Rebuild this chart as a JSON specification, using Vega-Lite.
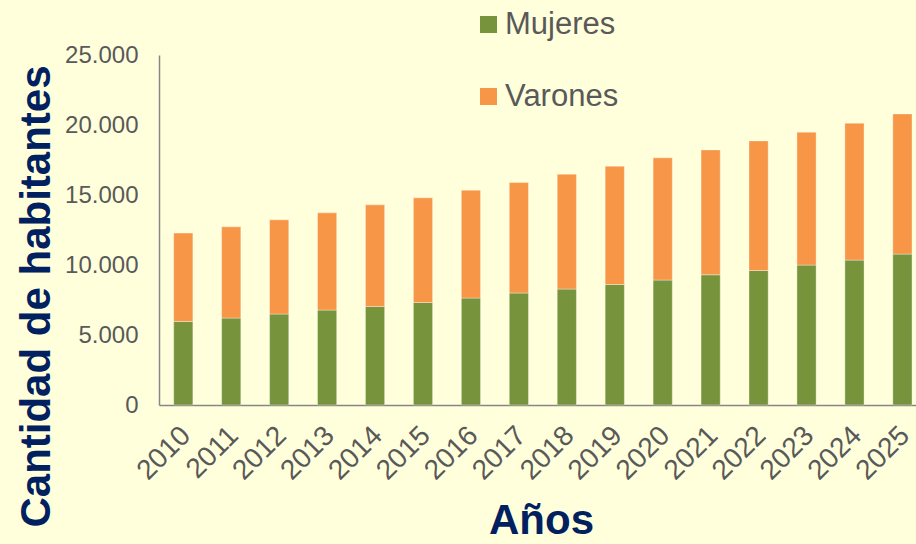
{
  "$schema": "https://vega.github.io/schema/vega-lite/v6.json",
  "autosize": {"type": "none"},
  "padding": {"left": 159, "top": 55, "right": 0, "bottom": 139},
  "width": 757,
  "height": 350,
  "background": "#FFFFDC",
  "data": {
    "values": [
      {"year": "2010", "sexo": "Mujeres", "value": 5967},
      {"year": "2010", "sexo": "Varones", "value": 6310},
      {"year": "2011", "sexo": "Mujeres", "value": 6210},
      {"year": "2011", "sexo": "Varones", "value": 6517},
      {"year": "2012", "sexo": "Mujeres", "value": 6495},
      {"year": "2012", "sexo": "Varones", "value": 6731},
      {"year": "2013", "sexo": "Mujeres", "value": 6781},
      {"year": "2013", "sexo": "Varones", "value": 6945},
      {"year": "2014", "sexo": "Mujeres", "value": 7038},
      {"year": "2014", "sexo": "Varones", "value": 7259},
      {"year": "2015", "sexo": "Mujeres", "value": 7323},
      {"year": "2015", "sexo": "Varones", "value": 7474},
      {"year": "2016", "sexo": "Mujeres", "value": 7637},
      {"year": "2016", "sexo": "Varones", "value": 7709},
      {"year": "2017", "sexo": "Mujeres", "value": 7994},
      {"year": "2017", "sexo": "Varones", "value": 7895},
      {"year": "2018", "sexo": "Mujeres", "value": 8280},
      {"year": "2018", "sexo": "Varones", "value": 8208},
      {"year": "2019", "sexo": "Mujeres", "value": 8608},
      {"year": "2019", "sexo": "Varones", "value": 8451},
      {"year": "2020", "sexo": "Mujeres", "value": 8922},
      {"year": "2020", "sexo": "Varones", "value": 8730},
      {"year": "2021", "sexo": "Mujeres", "value": 9301},
      {"year": "2021", "sexo": "Varones", "value": 8922},
      {"year": "2022", "sexo": "Mujeres", "value": 9607},
      {"year": "2022", "sexo": "Varones", "value": 9258},
      {"year": "2023", "sexo": "Mujeres", "value": 9993},
      {"year": "2023", "sexo": "Varones", "value": 9493},
      {"year": "2024", "sexo": "Mujeres", "value": 10350},
      {"year": "2024", "sexo": "Varones", "value": 9778},
      {"year": "2025", "sexo": "Mujeres", "value": 10778},
      {"year": "2025", "sexo": "Varones", "value": 10014}
    ]
  },
  "mark": {"type": "bar", "stroke": "#FFFFFF", "strokeOpacity": 0.35, "strokeWidth": 1},
  "encoding": {
    "x": {
      "field": "year",
      "type": "ordinal",
      "scale": {"paddingInner": 0.6, "paddingOuter": 0.195, "align": 0.786},
      "axis": {
        "title": "Años",
        "labelAngle": -45,
        "labelAlign": "right",
        "labelBaseline": "middle",
        "labelPadding": 26,
        "labelOffset": 3,
        "labelFontSize": 28,
        "labelFont": "Liberation Sans",
        "labelColor": "#595959",
        "labelOverlap": false,
        "ticks": false,
        "domainColor": "#868686",
        "domainWidth": 1.5,
        "titleFont": "Liberation Sans",
        "titleFontSize": 42,
        "titleFontWeight": "bold",
        "titleColor": "#002060",
        "titleX": 382,
        "titleY": 128,
        "titleAlign": "center",
        "titleBaseline": "alphabetic",
        "titleAnchor": null
      }
    },
    "y": {
      "field": "value",
      "type": "quantitative",
      "stack": "zero",
      "scale": {"domain": [0, 25000]},
      "axis": {
        "title": "Cantidad de habitantes",
        "values": [0, 5000, 10000, 15000, 20000, 25000],
        "format": ",d",
        "grid": false,
        "ticks": false,
        "labelPadding": 21,
        "labelFontSize": 24,
        "labelFont": "Liberation Sans",
        "labelColor": "#595959",
        "domainColor": "#868686",
        "domainWidth": 1.5,
        "titleFont": "Liberation Sans",
        "titleFontSize": 42,
        "titleFontWeight": "bold",
        "titleColor": "#002060",
        "titleAngle": -90,
        "titleX": -110,
        "titleY": 241,
        "titleAlign": "center",
        "titleBaseline": "alphabetic"
      }
    },
    "color": {
      "field": "sexo",
      "type": "nominal",
      "scale": {"domain": ["Mujeres", "Varones"], "range": ["#77933C", "#F79646"]},
      "legend": {
        "title": null,
        "orient": "none",
        "legendX": 314,
        "legendY": -46,
        "padding": 0,
        "rowPadding": 40,
        "symbolType": "square",
        "symbolSize": 289,
        "symbolStrokeWidth": 0,
        "symbolOpacity": 1,
        "labelFont": "Liberation Sans",
        "labelFontSize": 31,
        "labelColor": "#595959",
        "labelOffset": 1,
        "direction": "vertical"
      }
    },
    "order": {"field": "sexo", "sort": "ascending"}
  },
  "config": {
    "view": {"stroke": null},
    "locale": {"number": {"decimal": ",", "thousands": ".", "grouping": [3], "currency": ["", " €"]}}
  }
}
